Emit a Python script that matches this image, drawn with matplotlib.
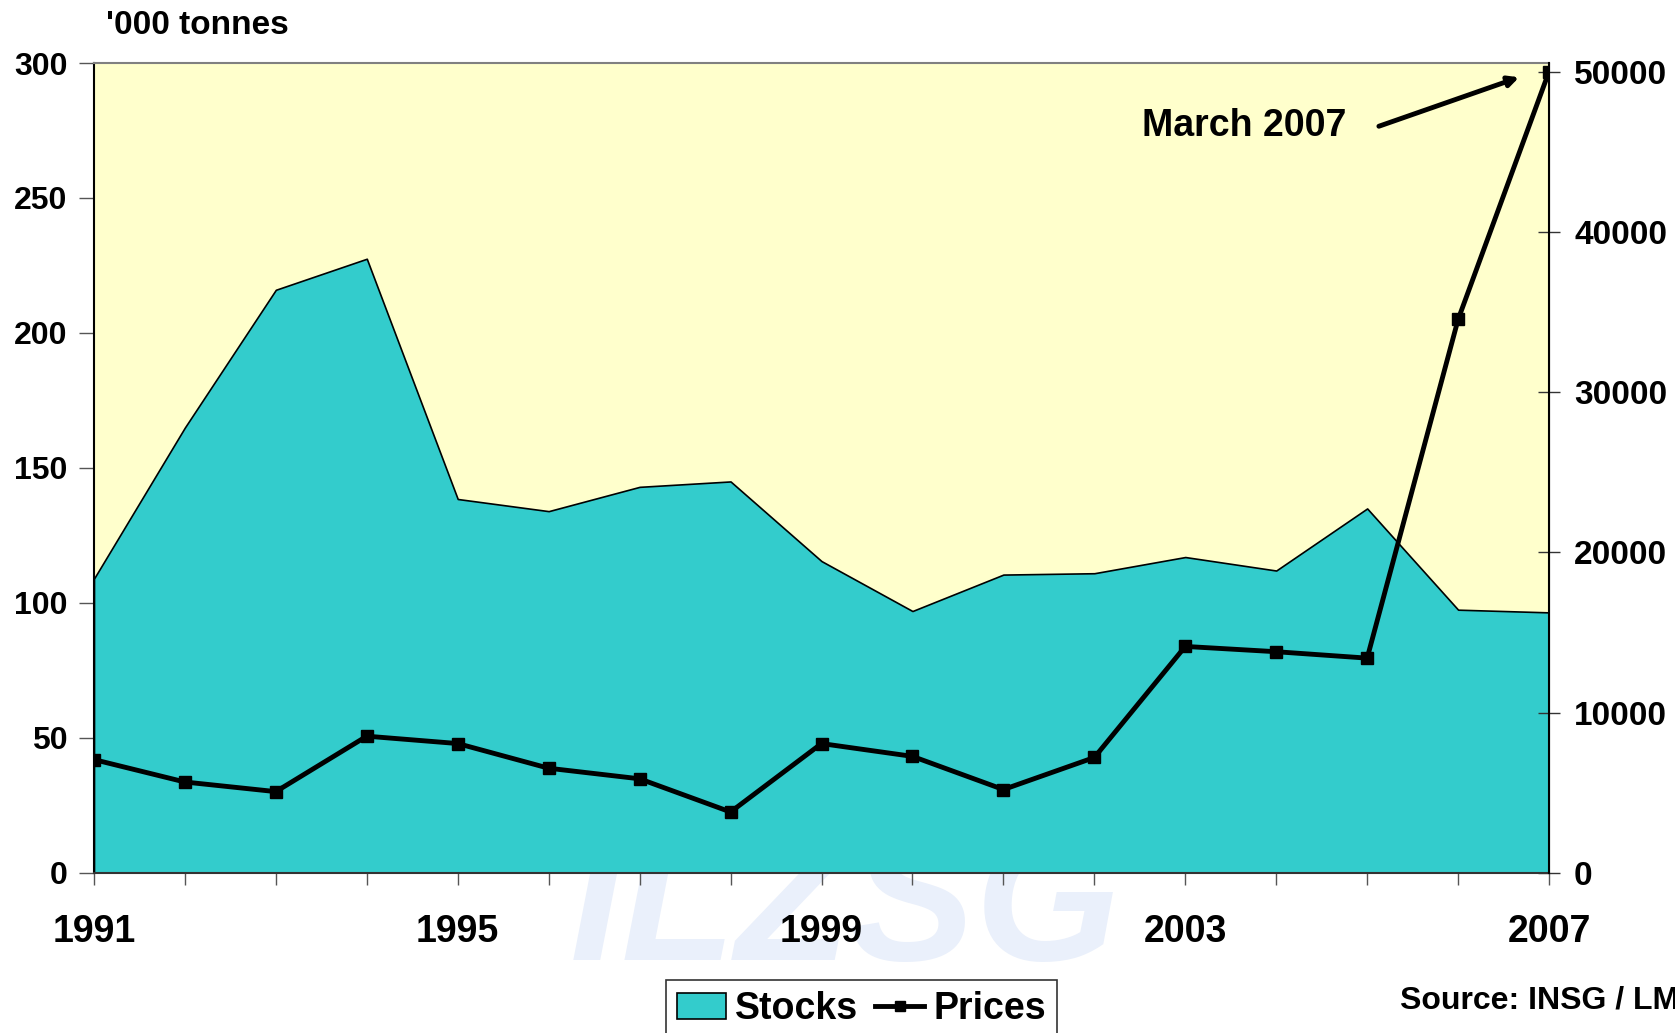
import numpy as np
import matplotlib.pyplot as plt
from matplotlib.patches import Patch
from matplotlib.lines import Line2D

plt.rcParams['font.family'] = ['Liberation Sans', 'DejaVu Sans']
plt.rcParams['font.weight'] = 'bold'

# data
years = list(range(1991, 2008))
stocks = [109, 165, 216, 227.5, 138.5, 134, 143, 145, 115.5, 97, 110.5, 111, 117, 112, 135, 97.5, 96.5]
prices = [7070, 5670, 5070, 8530, 8070, 6530, 5870, 3800, 8070, 7270, 5200, 7200, 14130, 13800, 13400, 34530, 50000]
year_labels = ['1991', '1995', '1999', '2003', '2007']
left_ticks = [0, 50, 100, 150, 200, 250, 300]
right_ticks = [0, 10000, 20000, 30000, 40000, 50000]

teal = '#33CCCC'
cream = '#FFFFCC'

fig = plt.figure(figsize=(16.75, 10.33), dpi=100)

# faint watermark behind everything
fig.text(0.505, 0.071, 'ILZSG', fontsize=135, style='italic', color='#eaf0fb',
         ha='center', va='baseline', zorder=-5)

ax = fig.add_axes([0.0561, 0.155, 0.8687, 0.784])
ax.set_facecolor(cream)
ax.fill_between(years, stocks, 0, facecolor=teal, edgecolor='black', linewidth=1.2)
ax.set_xlim(1991, 2007)
ax.set_ylim(0, 300)
ax.set_yticks(left_ticks)
ax.set_xticks(years)
ax.set_xticklabels([str(y) if str(y) in year_labels else '' for y in years])
ax.tick_params(axis='y', direction='out', length=11, width=1, color='#555555',
               labelsize=23, pad=8)
ax.tick_params(axis='x', direction='out', length=8.5, width=1, color='#555555',
               labelsize=27, pad=21)
ax.spines['top'].set_color('#808080')
ax.spines['top'].set_linewidth(1.5)
ax.spines['left'].set_linewidth(1.5)
ax.spines['bottom'].set_color('#333333')
ax.spines['bottom'].set_linewidth(1.5)

ax2 = ax.twinx()
ax2.plot(years, prices, color='black', linewidth=3.5, marker='s', markersize=8)
ax2.set_ylim(0, 50533)
ax2.set_yticks(right_ticks)
ax2.tick_params(axis='y', direction='inout', length=16, width=1, color='#333333',
                labelsize=24, pad=10)
ax2.spines['right'].set_linewidth(1.5)
ax2.spines['top'].set_visible(False)
ax2.spines['left'].set_visible(False)
ax2.spines['bottom'].set_visible(False)

# annotation
ax2.text(2004.77, 46600, 'March 2007', fontsize=27, ha='right', va='center')
ax2.annotate('', xy=(2006.7, 49700), xytext=(2005.1, 46530),
             arrowprops=dict(arrowstyle='-|>,head_length=0.6,head_width=0.3',
                             color='black', linewidth=3.5))

fig.text(0.063, 0.975, "'000 tonnes", fontsize=24, ha='left', va='center')
fig.text(0.836, 0.031, 'Source: INSG / LME', fontsize=23, ha='left', va='center')

handles = [Patch(facecolor=teal, edgecolor='black', linewidth=1.2),
           Line2D([0], [0], color='black', linewidth=3.5, marker='s', markersize=7)]
leg = fig.legend(handles, ['Stocks', 'Prices'], loc='upper left',
                 bbox_to_anchor=(0.3976, 0.0513), ncol=2, fontsize=27,
                 frameon=True, fancybox=False, edgecolor='black',
                 handlelength=1.3, handletextpad=0.25, columnspacing=0.45,
                 borderaxespad=0, borderpad=0.3)
leg.get_frame().set_linewidth(1.2)

fig.savefig('out.png', dpi=100)
